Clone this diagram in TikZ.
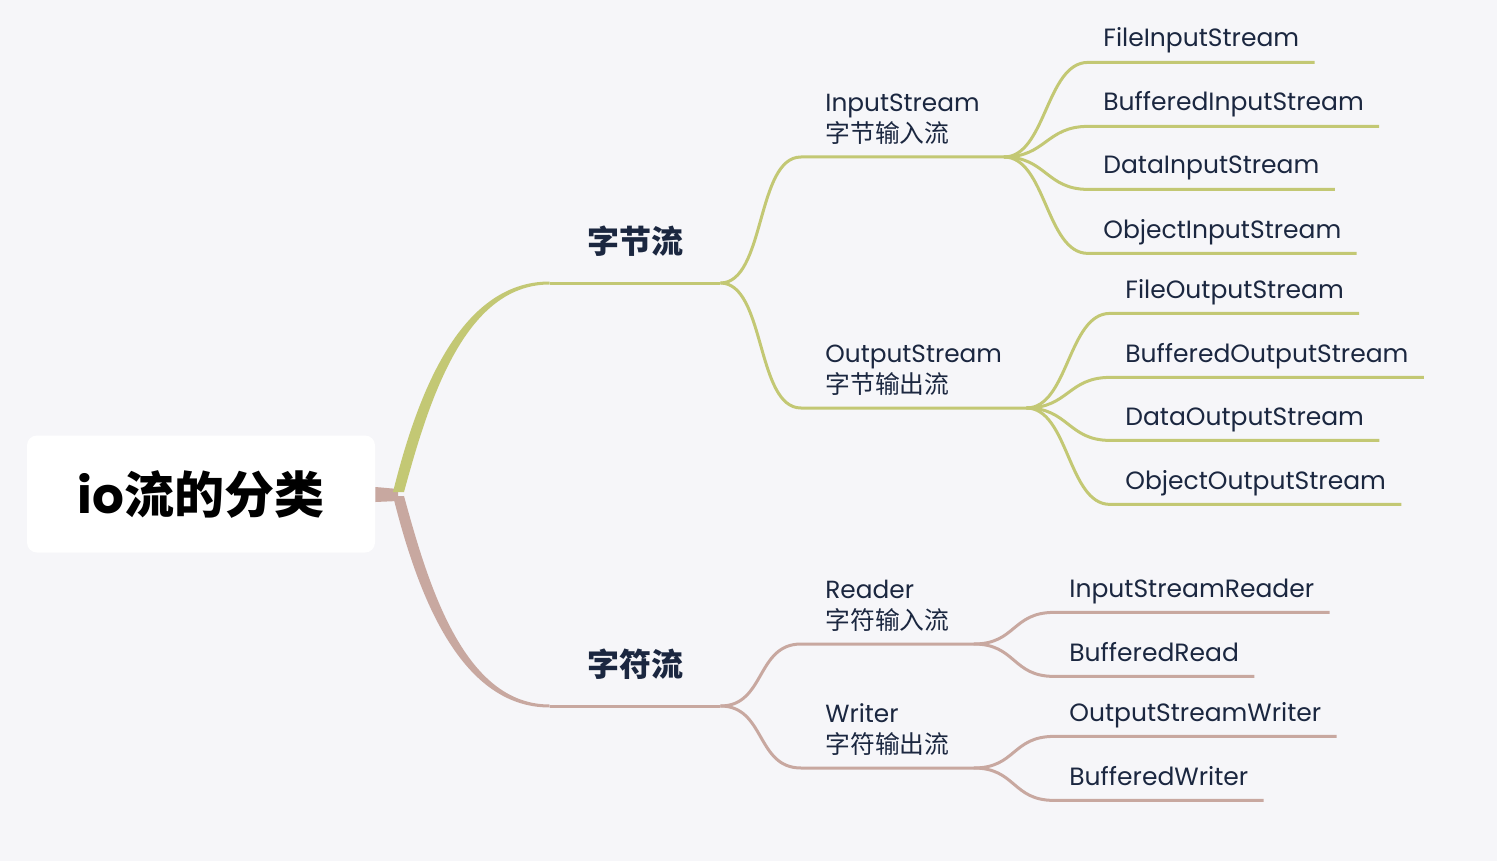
\documentclass[tikz,border=0pt]{standalone}
\usepackage{fontspec}
\setmainfont{Poppins}
\newfontfamily\cjk{Noto Sans CJK SC}
\usetikzlibrary{calc}
\definecolor{bg}{HTML}{F6F6F9}
\definecolor{ink}{HTML}{1B2740}
\definecolor{olive}{HTML}{C3C874}
\definecolor{rose}{HTML}{C8A8A0}
\tikzset{
  root/.style={fill=white,rounded corners=5pt,minimum width=174pt,minimum height=58.5pt,inner sep=0pt,font=\fontsize{25}{30}\selectfont\bfseries,text=black},
  cat/.style={anchor=south,minimum width=85pt,text depth=0pt,inner xsep=0pt,inner ysep=14.5pt,font=\cjk\bfseries\fontsize{16}{19}\selectfont,text=ink},
  sub/.style={anchor=south west,align=left,inner xsep=12pt,inner ysep=6pt,font=\fontsize{12.4}{15.5}\selectfont,text=ink},
  leaf/.style={anchor=base west,inner xsep=7.5pt,inner ysep=7.5pt,text depth=0pt,font=\fontsize{12.5}{15}\selectfont,text=ink},
  lnk/.style={line width=1.5pt},
}
\begin{document}
\begin{tikzpicture}[x=0.5pt,y=-0.5pt]
\fill[bg] (0,0) rectangle (1497,861);
\useasboundingbox (0,0) rectangle (1497,861);
% root and the two kinds of stream
\node[root] (root) at (201,494) {io{\cjk 流的分类}};
\coordinate (fork) at (398,494);
\node[cat] (bytes) at (635,283) {字节流};
\node[cat] (chars) at (635,706) {字符流};
% second level
\node[sub] (bin) at (801,157) {InputStream\\{\cjk 字节输入流}};
\node[sub] (bout) at (801,408) {OutputStream\\{\cjk 字节输出流}};
\node[sub] (cin) at (801,644) {Reader\\{\cjk 字符输入流}};
\node[sub] (cout) at (801,768) {Writer\\{\cjk 字符输出流}};
% tapered main branches
\fill[rose] ($(root.east)+(0,-7)$) -- ($(fork)+(0,-5)$) -- ($(fork)+(0,7)$) -- ($(root.east)+(0,8)$) -- cycle;
\fill[olive] ($(fork)+(-5,-2)$) .. controls ($(fork)+(18,-94)$) and ($(bytes.south west)+(-92,-1.5)$) .. ($(bytes.south west)+(0,-1.5)$) -- ($(bytes.south west)+(0,1.5)$) .. controls ($(bytes.south west)+(-86,1.5)$) and ($(fork)+(30,-90)$) .. ($(fork)+(6,-2)$) -- cycle;
\fill[rose] ($(fork)+(-5,2)$) .. controls ($(fork)+(18,94)$) and ($(chars.south west)+(-92,1.5)$) .. ($(chars.south west)+(0,1.5)$) -- ($(chars.south west)+(0,-1.5)$) .. controls ($(chars.south west)+(-86,-1.5)$) and ($(fork)+(30,90)$) .. ($(fork)+(6,2)$) -- cycle;
\draw[olive,lnk] (bytes.south west) -- (bytes.south east);
\draw[rose,lnk] (chars.south west) -- (chars.south east);
\foreach \p/\c/\k in {bin/olive/bytes,bout/olive/bytes,cin/rose/chars,cout/rose/chars}
  \draw[\c,lnk] (\k.south east) .. controls +(45,0) and +(-45,0) .. (\p.south west) -- (\p.south east);
% leaves
\foreach \nm/\x/\y/\p/\c/\t in {
  fis/1088/47/bin/olive/FileInputStream,
  bis/1088/111/bin/olive/BufferedInputStream,
  dis/1088/174/bin/olive/DataInputStream,
  ois/1088/238/bin/olive/ObjectInputStream,
  fos/1110/298/bout/olive/FileOutputStream,
  bos/1110/362/bout/olive/BufferedOutputStream,
  dos/1110/425/bout/olive/DataOutputStream,
  oos/1110/489/bout/olive/ObjectOutputStream,
  isr/1054/597/cin/rose/InputStreamReader,
  brd/1054/661/cin/rose/BufferedRead,
  osw/1054/721/cout/rose/OutputStreamWriter,
  bwr/1054/785/cout/rose/BufferedWriter}{
  \node[leaf] (\nm) at (\x,\y) {\t};
  \draw[\c,lnk] (\p.south east) .. controls +(42,0) and +(-42,0) .. (\nm.south west) -- (\nm.south east);
}
\end{tikzpicture}
\end{document}
